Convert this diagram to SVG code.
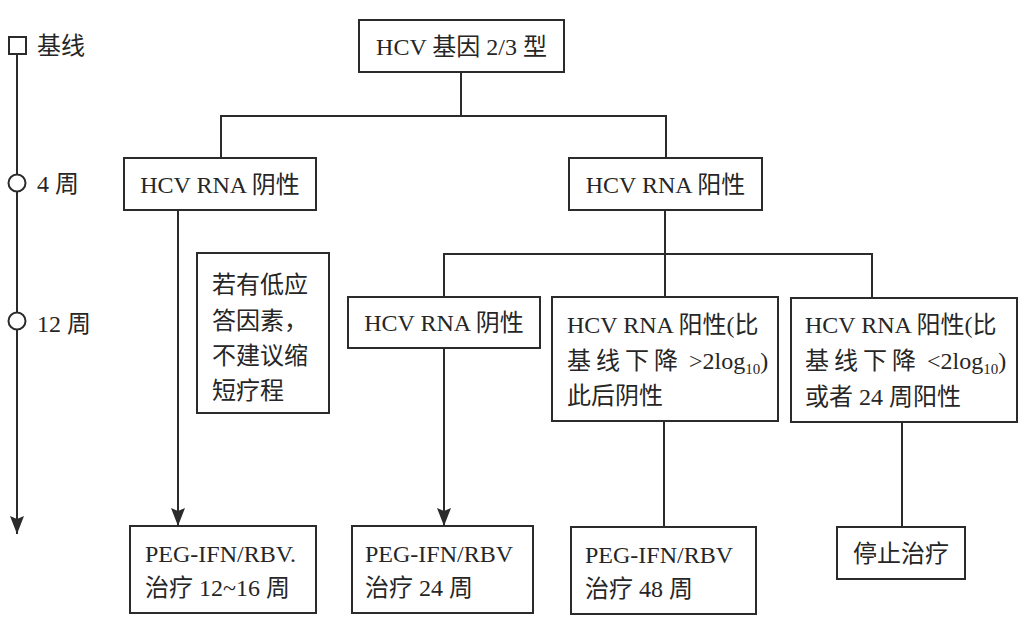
<svg xmlns="http://www.w3.org/2000/svg" width="1019" height="622" viewBox="0 0 1019 622">
<style>
.box{fill:#fff;stroke:#2b2b2b;stroke-width:2}
.ln{fill:none;stroke:#2b2b2b;stroke-width:2}
.t{font-family:"Liberation Serif","Noto Sans CJK SC",serif;font-size:24px;fill:#262626}
.sub{font-size:15px}
</style>
<defs>
<marker id="ad" viewBox="0 0 18 14" refX="18" refY="7" markerWidth="18" markerHeight="14" markerUnits="userSpaceOnUse" orient="auto">
<path d="M0,0 L18,7 L0,14 L3,7 Z" fill="#2b2b2b"/>
</marker>
</defs>
<rect width="1019" height="622" fill="#fff"/>

<g id="timeline">
<line class="ln" x1="17" y1="53" x2="17" y2="534" marker-end="url(#ad)"/>
<rect class="box" x="9" y="37" width="17" height="17"/>
<circle class="box" cx="17" cy="183" r="8.5"/>
<circle class="box" cx="17" cy="321" r="8.5"/>
<text class="t" x="37" y="54">基线</text>
<text class="t" x="37" y="192">4 周</text>
<text class="t" x="37" y="332">12 周</text>
</g>

<g id="connectors">
<polyline class="ln" points="461,72 461,116"/>
<polyline class="ln" points="221,158 221,116 666,116 666,158"/>
<polyline class="ln" points="665,210 665,297"/>
<polyline class="ln" points="444,297 444,254 872,254 872,297"/>
<line class="ln" x1="178" y1="210" x2="178" y2="526" marker-end="url(#ad)"/>
<line class="ln" x1="444" y1="348" x2="444" y2="526" marker-end="url(#ad)"/>
<line class="ln" x1="664" y1="421" x2="664" y2="527"/>
<line class="ln" x1="902" y1="422" x2="902" y2="527"/>
</g>

<g id="root">
<rect class="box" x="359" y="20" width="205" height="52"/>
<text class="t" x="461.5" y="55" text-anchor="middle">HCV 基因 2/3 型</text>
</g>

<g id="neg4">
<rect class="box" x="124" y="158" width="192" height="52"/>
<text class="t" x="220" y="193" text-anchor="middle">HCV RNA 阴性</text>
</g>

<g id="pos4">
<rect class="box" x="569" y="158" width="193" height="52"/>
<text class="t" x="665.5" y="193" text-anchor="middle">HCV RNA 阳性</text>
</g>

<g id="note">
<rect class="box" x="197" y="253" width="132" height="160"/>
<text class="t" x="212" y="293">若有低应</text>
<text class="t" x="212" y="329">答因素，</text>
<text class="t" x="212" y="364">不建议缩</text>
<text class="t" x="212" y="399">短疗程</text>
</g>

<g id="neg12">
<rect class="box" x="348" y="297" width="192" height="51"/>
<text class="t" x="444" y="331" text-anchor="middle">HCV RNA 阴性</text>
</g>

<g id="posgt">
<rect class="box" x="552" y="297" width="226" height="124"/>
<text class="t" x="567" y="333">HCV RNA 阳性(比</text>
<text class="t" x="567" y="369"><tspan letter-spacing="5">基线下降</tspan> &gt;2log<tspan class="sub" dy="5">10</tspan><tspan dy="-5">)</tspan></text>
<text class="t" x="567" y="404">此后阴性</text>
</g>

<g id="poslt">
<rect class="box" x="791" y="298" width="226" height="124"/>
<text class="t" x="805" y="333">HCV RNA 阳性(比</text>
<text class="t" x="805" y="369"><tspan letter-spacing="5">基线下降</tspan> &lt;2log<tspan class="sub" dy="5">10</tspan><tspan dy="-5">)</tspan></text>
<text class="t" x="805" y="405">或者 24 周阳性</text>
</g>

<g id="peg16">
<rect class="box" x="130" y="526" width="186" height="87"/>
<text class="t" x="145" y="562">PEG-IFN/RBV.</text>
<text class="t" x="145" y="596">治疗 12~16 周</text>
</g>

<g id="peg24">
<rect class="box" x="352" y="526" width="181" height="87"/>
<text class="t" x="365" y="562">PEG-IFN/RBV</text>
<text class="t" x="365" y="596">治疗 24 周</text>
</g>

<g id="peg48">
<rect class="box" x="571" y="527" width="185" height="87"/>
<text class="t" x="585" y="563">PEG-IFN/RBV</text>
<text class="t" x="585" y="597">治疗 48 周</text>
</g>

<g id="stop">
<rect class="box" x="837" y="527" width="128" height="52"/>
<text class="t" x="901" y="562" text-anchor="middle">停止治疗</text>
</g>
</svg>
